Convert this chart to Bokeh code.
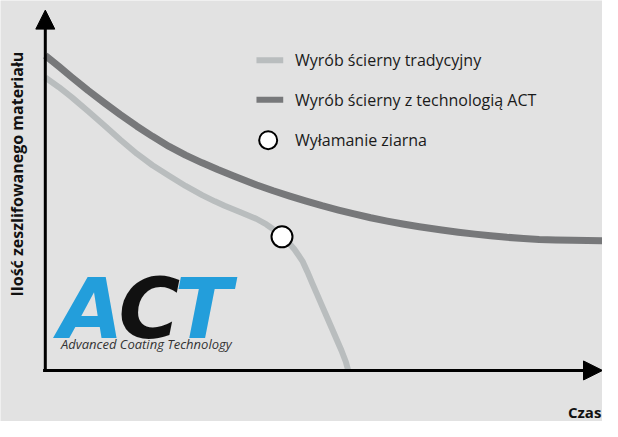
from bokeh.plotting import figure
from bokeh.models import Range1d, Arrow, NormalHead
from bokeh.core.properties import value
from bokeh.embed import file_html
from bokeh.resources import INLINE

# --- data (time vs. amount of ground material, arbitrary units 0-100) ---
act_x = [0, 2.45, 4.72, 7.69, 10.66, 13.46, 16.43, 19.23, 22.20, 25.17, 28.15, 30.94, 33.92,
         37.94, 40.91, 43.88, 46.68, 49.65, 52.62, 55.42, 58.39, 61.36, 64.16, 67.13, 71.15,
         74.13, 77.10, 79.90, 82.87, 85.84, 88.64, 91.61, 94.58, 100]
act_y = [87.43, 84.36, 81.42, 77.67, 74.20, 70.99, 67.78, 64.97, 62.17, 59.76, 57.62, 55.75, 53.88,
         51.47, 49.87, 48.40, 47.06, 45.72, 44.52, 43.45, 42.38, 41.44, 40.64, 39.89, 38.98,
         38.37, 37.83, 37.38, 36.95, 36.63, 36.36, 36.20, 36.10, 36.02]

trad_x = [0, 2.45, 4.72, 7.69, 10.66, 13.46, 16.43, 19.23, 22.20, 25.17, 28.15, 30.42, 32.17,
          35.14, 37.94, 39.69, 40.91, 42.48, 43.53, 44.70, 45.45, 46.15, 47.03, 47.90, 48.78,
          49.65, 50.52, 51.40, 52.27, 53.15, 53.93, 54.37]
trad_y = [81.28, 78.61, 75.86, 71.93, 67.91, 64.04, 60.16, 56.95, 54.01, 51.20, 48.66, 46.93, 45.72,
          43.85, 42.03, 40.51, 39.17, 37.30, 35.70, 33.61, 31.95, 30.35, 27.41, 24.25, 21.12,
          17.99, 14.89, 11.76, 8.64, 5.53, 2.41, 0]

break_x = [42.48]
break_y = [37.1]

legend_labels = ["Wyrób ścierny tradycyjny", "Wyrób ścierny z technologią ACT", "Wyłamanie ziarna"]
y_label = "Ilość zeszlifowanego materiału"
x_label = "Czas"
logo_letters = ["A", "C", "T"]
logo_caption = "Advanced Coating Technology"

BG = "#e2e2e2"
LIGHT = "#b9bdbe"
DARK = "#77787a"
BLUE = "#239edb"

p = figure(width=602, height=421, output_backend="svg", toolbar_location=None,
           x_range=Range1d(-8.04, 100), y_range=Range1d(-14.17, 102.67),
           x_axis_type=None, y_axis_type=None, min_border=0,
           background_fill_color=BG, border_fill_color=BG, outline_line_color=None)
p.grid.visible = False

# axes with arrow heads
p.add_layout(Arrow(x_start=-0.4, y_start=0, x_end=100, y_end=0, line_width=3, line_color="black",
                   end=NormalHead(size=19, fill_color="black", line_color="black", line_width=1)))
p.add_layout(Arrow(x_start=0, y_start=-0.4, x_end=0, y_end=100, line_width=3, line_color="black",
                   end=NormalHead(size=19, fill_color="black", line_color="black", line_width=1)))

# curves
p.line(act_x, act_y, line_color=DARK, line_width=7, line_join="round")
p.line(trad_x, trad_y, line_color=LIGHT, line_width=6, line_join="round")
p.scatter(break_x, break_y, size=21, fill_color="white", line_color="black", line_width=2)

# legend (drawn manually)
leg_y = [86.1, 75.1, 63.9]
p.segment(x0=[37.9], y0=[leg_y[0]], x1=[42.7], y1=[leg_y[0]], line_color=LIGHT, line_width=6)
p.segment(x0=[37.9], y0=[leg_y[1]], x1=[42.7], y1=[leg_y[1]], line_color=DARK, line_width=6)
p.scatter([40.0], [leg_y[2]], size=18, fill_color="white", line_color="black", line_width=2)
p.text(x=[44.8] * 3, y=leg_y, text=legend_labels, text_font=value("Open Sans"),
       text_font_size="16px", text_color="#1a1a1a", text_baseline="middle", text_align="left")

# axis titles
p.text(x=[-5.1], y=[54.5], text=[y_label], angle=1.5708, text_font=value("Open Sans"),
       text_font_style="bold", text_font_size="16px", text_color="#111111",
       text_align="center", text_baseline="middle")
p.text(x=[99.8], y=[-11.6], text=[x_label], text_font=value("Open Sans"),
       text_font_style="bold", text_font_size="15px", text_color="#111111",
       text_align="right", text_baseline="middle")

# ACT logo
p.text(x=[2.37, 13.14, 23.19], y=[17.1] * 3, text=logo_letters, text_font=value("DejaVu Sans"),
       text_font_style="bold italic", text_font_size="84px",
       text_color=[BLUE, "#111111", BLUE], text_align="left", text_baseline="middle")
p.text(x=[2.8], y=[7.4], text=[logo_caption], text_font=value("Open Sans"),
       text_font_style="italic", text_font_size="13px", text_color="#333333",
       text_align="left", text_baseline="middle")

open("out.html", "w").write(file_html(p, INLINE))
